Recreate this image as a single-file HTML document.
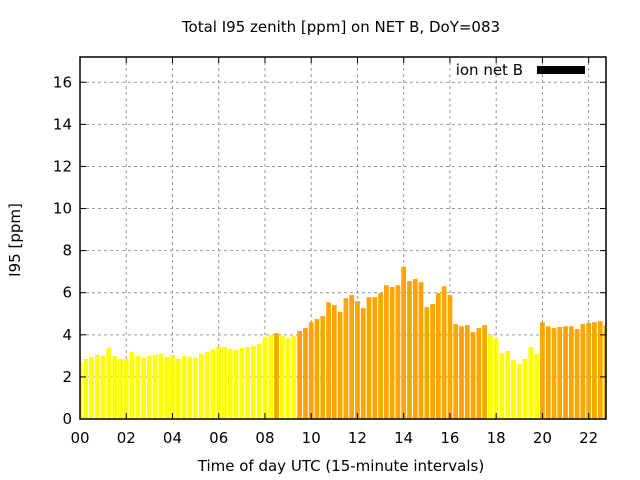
<!DOCTYPE html>
<html><head><meta charset="utf-8">
<style>
html,body{margin:0;padding:0;background:#fff;}
svg{display:block;font-family:"DejaVu Sans","Liberation Sans",sans-serif;}
</style></head>
<body>
<svg id="chart" width="640" height="480" viewBox="0 0 640 480">
<text x="341" y="32" font-size="15" text-anchor="middle">Total I95 zenith [ppm] on NET B, DoY=083</text>
<text x="341" y="471" font-size="15" text-anchor="middle">Time of day UTC (15-minute intervals)</text>
<text transform="translate(20,240) rotate(-90)" font-size="15" text-anchor="middle">I95 [ppm]</text>
<g id="grid"></g>
<g id="bars"></g>
<g id="axes"></g>
<text x="523" y="75" font-size="15" text-anchor="end">ion net B</text>
<rect x="537" y="66" width="48" height="8" fill="#000"/>
</svg>
<script>
const values = [2.71,2.85,2.94,3.04,2.99,3.37,2.99,2.85,2.85,3.18,2.99,2.9,2.99,3.04,3.09,2.94,3.04,2.85,2.99,2.94,2.9,3.09,3.18,3.32,3.42,3.42,3.32,3.28,3.37,3.42,
3.47,3.56,3.89,3.99,4.08,3.94,3.84,3.94,4.18,4.32,4.6,4.75,4.89,5.55,5.41,5.08,5.74,5.89,5.6,5.27,5.79,5.79,5.98,6.36,6.27,6.36,7.22,6.55,6.65,6.5,
5.32,5.46,5.98,6.31,5.89,4.51,4.41,4.46,4.13,4.32,4.46,3.99,3.8,3.13,3.23,2.8,2.61,2.85,3.42,3.09,4.6,4.41,4.32,4.37,4.41,4.41,4.27,4.51,4.56,4.6,4.65,4.46];
const xTicks = ["00","02","04","06","08","10","12","14","16","18","20","22"];
const yTicks = [0,2,4,6,8,10,12,14,16];
const X0=80,X1=606,Y0=419,Y1=57,XMAX=22.75,YMAX=17.2,THRESH=4;
const NS="http://www.w3.org/2000/svg";
const sx=h=>X0+h*(X1-X0)/XMAX, sy=v=>Y0-v*(Y0-Y1)/YMAX;
function mk(t,a,p){const e=document.createElementNS(NS,t);for(const k in a)e.setAttribute(k,a[k]);p.appendChild(e);return e;}
const grid=document.getElementById('grid'),bars=document.getElementById('bars'),axes=document.getElementById('axes');
yTicks.forEach(v=>{const y=sy(v);
 if(v>0){const l=mk('line',{x1:X0,x2:X1,y1:y,y2:y,stroke:'#999','stroke-dasharray':'3,3'},grid);}
 mk('line',{x1:X0,x2:X0+6,y1:y,y2:y,stroke:'#000'},axes);mk('line',{x1:X1-6,x2:X1,y1:y,y2:y,stroke:'#000'},axes);
 const t=mk('text',{x:X0-8,y:y+5,'font-size':15,'text-anchor':'end'},axes);t.textContent=v;
 });
xTicks.forEach((s,i)=>{const x=sx(parseInt(s,10));
 if(i>0){const l=mk('line',{x1:x,x2:x,y1:Y0,y2:Y1,stroke:'#999','stroke-dasharray':'3,3'},grid);}
 mk('line',{x1:x,x2:x,y1:Y0,y2:Y0-6,stroke:'#000'},axes);mk('line',{x1:x,x2:x,y1:Y1,y2:Y1+6,stroke:'#000'},axes);
 const t=mk('text',{x:x,y:Y0+24,'font-size':15,'text-anchor':'middle'},axes);t.textContent=s;
 });
const bw=(X1-X0)/XMAX*0.25*0.82;
values.forEach((v,i)=>{const cx=sx(i*0.25);let l=Math.max(X0,cx-bw/2),r=Math.min(X1,cx+bw/2);
 const b=mk('rect',{x:l,y:sy(v),width:r-l,height:Y0-sy(v),fill:v<THRESH?'#ffff00':'#ffa500'},bars);
 });
const f=mk('rect',{x:X0,y:Y1,width:X1-X0,height:Y0-Y1,fill:'none',stroke:'#000','stroke-width':1.5},axes);

</script>
</body></html>
